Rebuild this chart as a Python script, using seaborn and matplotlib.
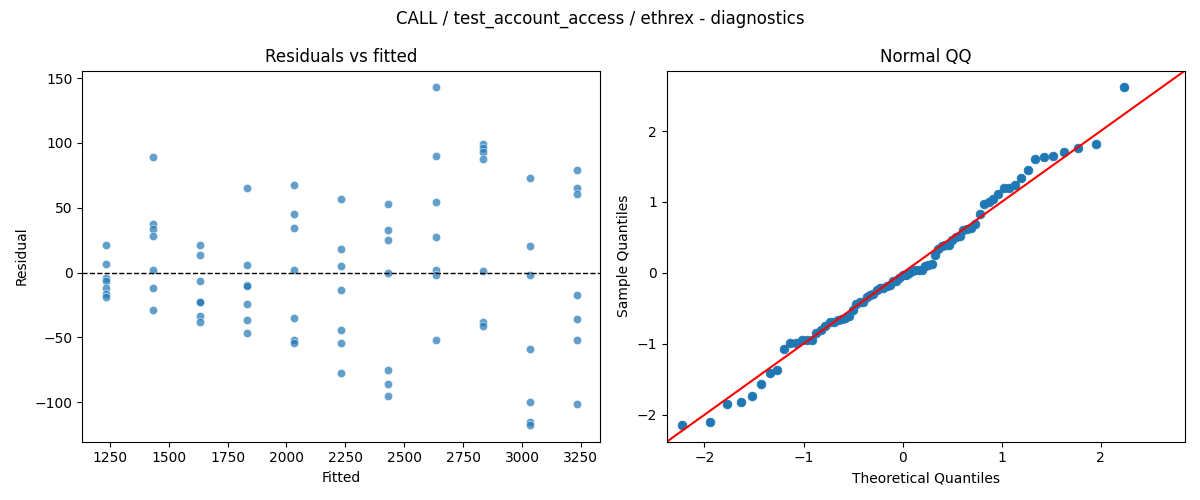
import numpy as np
import pandas as pd
import matplotlib
matplotlib.use("Agg")
import matplotlib.pyplot as plt
import seaborn as sns
from statistics import NormalDist

# ---- data ----
fitted_levels = [1233, 1433, 1633, 1833, 2033, 2233, 2433, 2633, 2833, 3033, 3233]
res_1233 = [21.3, 6.7, -4.4, -6.2, -12.1, -16.7, -19.0]
res_1433 = [89.0, 37.4, 33.3, 27.9, 2.1, -12.1, -28.7]
res_1633 = [21.3, 13.6, -6.7, -22.3, -22.8, -33.3, -38.2]
res_1833 = [64.9, 5.9, -9.5, -10.0, -24.4, -36.4, -46.7]
res_2033 = [67.2, 44.9, 34.1, 2.1, -35.1, -51.8, -54.4]
res_2233 = [56.7, 17.9, 4.9, -13.6, -44.1, -54.4, -77.4]
res_2433 = [52.8, 32.6, 24.9, -0.5, -75.1, -85.9, -94.9]
res_2633 = [142.8, 90.3, 54.1, 27.2, 2.1, -1.8, -51.8]
res_2833 = [99.0, 96.4, 93.1, 87.9, 1.3, -38.2, -41.0]
res_3033 = [72.6, 20.3, -1.8, -59.0, -99.7, -115.1, -117.4]
res_3233 = [79.5, 64.9, 60.3, -17.4, -35.9, -51.8, -101.3]

groups = [res_1233, res_1433, res_1633, res_1833, res_2033, res_2233,
          res_2433, res_2633, res_2833, res_3033, res_3233]

fitted = []
resid = []
for lvl, g in zip(fitted_levels, groups):
    fitted += [lvl] * len(g)
    resid += g
df = pd.DataFrame({"Fitted": fitted, "Residual": resid})

# ---- QQ quantities (statsmodels-like: positions i/(n+1), standardized sample) ----
r = np.array(resid, dtype=float)
n = len(r)
theo = np.array([NormalDist().inv_cdf(i / (n + 1)) for i in range(1, n + 1)])
sample = np.sort((r - r.mean()) / r.std())
qq = pd.DataFrame({"Theoretical Quantiles": theo, "Sample Quantiles": sample})

fig, axes = plt.subplots(1, 2, figsize=(12, 5), dpi=100)

ax = axes[0]
sns.scatterplot(data=df, x="Fitted", y="Residual", ax=ax, alpha=0.7,
                color="#1f77b4", s=36)
ax.axhline(0, color="black", linestyle="--", linewidth=1)
ax.set_title("Residuals vs fitted")

ax = axes[1]
sns.scatterplot(data=qq, x="Theoretical Quantiles", y="Sample Quantiles", ax=ax,
                color="#1f77b4", s=40, edgecolor="#1f77b4", linewidth=0.5)
rng = sample.max() - sample.min()
lo = sample.min() - 0.05 * rng
hi = sample.max() + 0.05 * rng
ax.plot([lo, hi], [lo, hi], color="red", linewidth=1.5)
ax.set_xlim(lo, hi)
ax.set_ylim(lo, hi)
ax.set_title("Normal QQ")

fig.suptitle("CALL / test_account_access / ethrex - diagnostics")
fig.tight_layout()
fig.savefig("out.png", dpi=100)
